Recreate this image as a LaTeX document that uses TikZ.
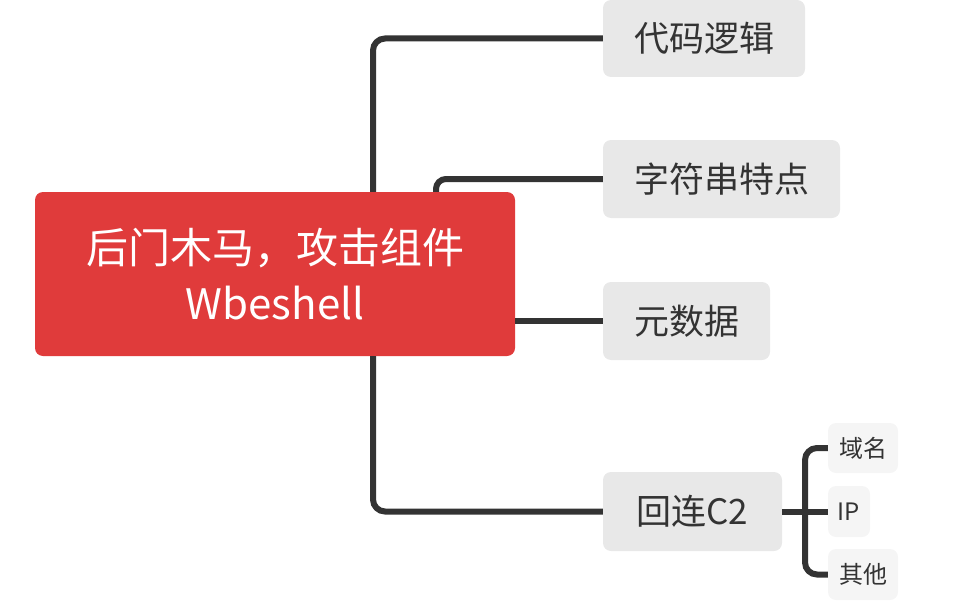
\documentclass[tikz,border=0pt]{standalone}
\usepackage{fontspec}
\setmainfont{Noto Sans CJK SC}
\definecolor{rootred}{HTML}{E03B3B}
\definecolor{boxgrey}{HTML}{E8E8E8}
\definecolor{subgrey}{HTML}{F5F5F5}
\definecolor{linegrey}{HTML}{333333}
\definecolor{textgrey}{HTML}{333333}
\begin{document}
\begin{tikzpicture}[x=1pt,y=-1pt,
  rootbox/.style={fill=rootred,rounded corners=8pt,inner sep=0pt,text=white,align=center,
    font=\fontsize{42}{56}\selectfont},
  childbox/.style={fill=boxgrey,rounded corners=8pt,inner sep=0pt,text=textgrey,
    font=\fontsize{35}{40}\selectfont},
  subbox/.style={fill=subgrey,rounded corners=8pt,inner sep=0pt,text=textgrey,
    font=\fontsize{24}{28}\selectfont},
  conn/.style={draw=linegrey,line width=6pt,rounded corners=12pt}]
\useasboundingbox (0,0) rectangle (972,602);
\node[rootbox,minimum width=480pt,minimum height=164pt] (root) at (275,274)
  {后门木马，攻击组件\\Wbeshell};
\node[childbox,minimum width=202pt,minimum height=77pt] (A) at (704,38.5) {代码逻辑};
\node[childbox,minimum width=237pt,minimum height=78pt] (B) at (721.5,179) {字符串特点};
\node[childbox,minimum width=167pt,minimum height=78pt] (C) at (686.5,321) {元数据};
\node[childbox,minimum width=179pt,minimum height=79pt] (D) at (692.5,511.5) {回连C2};
\node[subbox,minimum width=70pt,minimum height=50pt] (S1) at (863,448) {域名};
\node[subbox,minimum width=42pt,minimum height=51pt] (S2) at (849,511.5) {IP};
\node[subbox,minimum width=70pt,minimum height=51pt] (S3) at (863,574.5) {其他};
\coordinate (t1) at (373,0);
\coordinate (t2) at (436,0);
\coordinate (t3) at (805,0);
\draw[conn] (t1 |- root.north) |- (A.west);
\draw[conn,rounded corners=10pt] (t2 |- root.north) |- (B.west);
\draw[conn] (root.east |- C.west) -- (C.west);
\draw[conn] (t1 |- root.south) |- (D.west);
\draw[conn] (D.east) -- (S2.west);
\draw[conn] (S1.west) -| (t3 |- S3.west) -- (S3.west);
\end{tikzpicture}
\end{document}
